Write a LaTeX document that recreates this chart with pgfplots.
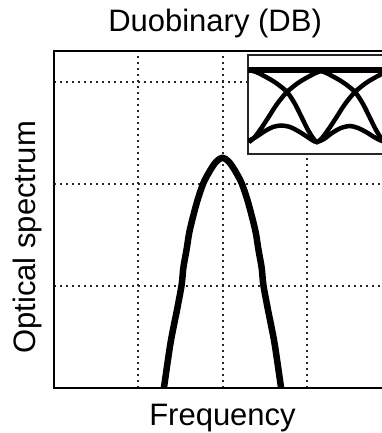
\documentclass[border=0pt]{standalone}
\usepackage{fontspec}
\setmainfont{Liberation Sans}
\usepackage{pgfplots}
\pgfplotsset{compat=1.18}
\begin{document}
\begin{tikzpicture}[x=1pt,y=1pt]
\useasboundingbox (0,0) rectangle (382,433);
\clip (0,0) rectangle (382,433);
\begin{axis}[
  at={(54pt,45pt)}, anchor=south west,
  scale only axis, width=337pt, height=337pt,
  xmin=0, xmax=4, ymin=0, ymax=3.3,
  xtick={1,2,3}, ytick={1,2,3},
  xticklabels={}, yticklabels={},
  major tick length=0pt,
  grid=major,
  major grid style={black!85, line width=2pt, dash pattern=on 2pt off 4pt},
  axis line style={black, line width=2.5pt},
  title={Duobinary (DB)},
  title style={font=\fontsize{31}{37}\selectfont, at={(axis description cs:0.478,1.0415)}, anchor=base},
  xlabel={Frequency},
  xlabel style={font=\fontsize{31}{37}\selectfont, at={(axis description cs:0.5,-0.11)}, anchor=base},
  ylabel={Optical spectrum},
  ylabel style={font=\fontsize{31}{37}\selectfont, at={(axis description cs:-0.056,0.447)}, anchor=base, rotate=0},
  clip=true,
]
\addplot[black, line width=6.5pt, line join=round, smooth, tension=0.5] coordinates {
(1.28,-0.1) (1.306,0.01) (1.383,0.441) (1.46,0.765) (1.515,1.01) (1.535,1.176)
(1.573,1.353) (1.605,1.52) (1.65,1.676) (1.705,1.843) (1.775,2.01) (1.86,2.14)
(1.93,2.22) (2.0,2.255) (2.07,2.22) (2.14,2.14) (2.225,2.01) (2.295,1.843)
(2.35,1.676) (2.395,1.52) (2.427,1.353) (2.465,1.176) (2.485,1.01) (2.54,0.765)
(2.617,0.441) (2.694,0.01) (2.72,-0.1)
};
\end{axis}
\begin{axis}[
  at={(248pt,279pt)}, anchor=south west,
  scale only axis, width=160pt, height=99pt,
  xmin=248, xmax=408, ymin=55, ymax=154, y dir=reverse,
  xtick=\empty, ytick=\empty,
  axis background/.style={fill=white},
  axis line style={black!85, line width=1.8pt},
  clip=true,
]
\addplot[black, line width=5.5pt] coordinates {(248,70) (408,70)};
\addplot[black, line width=4.5pt, smooth, tension=0.5] coordinates {
(248,70) (256,72) (266,77) (276,83) (287,92) (295,104) (302,118) (308,130) (313,138) (317,142)
(322,138) (328,130) (336,118) (345,104) (355,92) (366,83) (376,77) (386,72) (394,70)
};
\addplot[black, line width=4.5pt, smooth, tension=0.5] coordinates {
(249,142) (254,138) (260,130) (268,118) (277,104) (287,92) (298,83) (308,77) (318,72) (326,70)
};
\addplot[black, line width=4.5pt, smooth, tension=0.5] coordinates {
(316,70) (324,72) (334,77) (344,83) (355,92) (363,104) (370,118) (376,130) (381,138) (385,142)
};
\addplot[black, line width=4.5pt, smooth, tension=0.5] coordinates {
(248,141) (256,137) (265,131) (273,127) (281,125.5) (290,127) (298,131) (306,136) (312,140) (317,142)
(324,139) (332,133) (341,128) (350,126) (358,128) (366,132) (374,137) (382,141) (388,142)
};
\end{axis}
\end{tikzpicture}
\end{document}
